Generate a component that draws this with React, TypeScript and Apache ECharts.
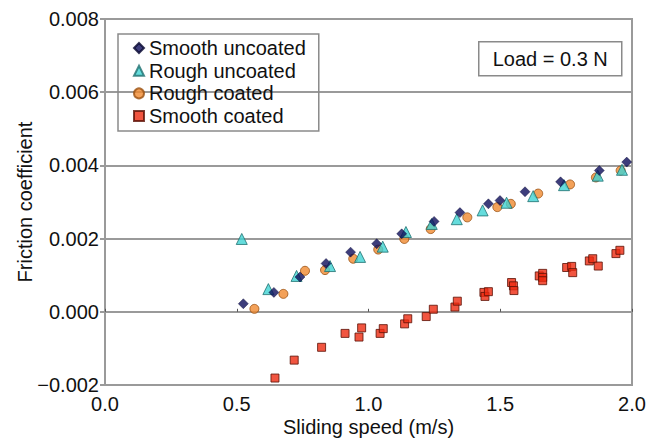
import React, { useEffect, useRef } from "react";
import * as echarts from "echarts";

const seriesNames = ["Smooth uncoated", "Rough uncoated", "Rough coated", "Smooth coated"];

const smoothUncoated: [number, number][] = [
  [0.525, 0.00022], [0.641, 0.00053], [0.74, 0.00095], [0.839, 0.00132], [0.932, 0.00163],
  [1.031, 0.00186], [1.126, 0.00213], [1.249, 0.00247], [1.347, 0.00271], [1.455, 0.00295],
  [1.499, 0.00304], [1.594, 0.00328], [1.729, 0.00355], [1.876, 0.00386], [1.98, 0.00409],
];

const roughUncoated: [number, number][] = [
  [0.519, 0.00199], [0.62, 0.00062], [0.727, 0.00098], [0.854, 0.00125], [0.968, 0.0015],
  [1.054, 0.00178], [1.142, 0.00218], [1.24, 0.0024], [1.335, 0.00253], [1.433, 0.00277],
  [1.524, 0.00298], [1.625, 0.00316], [1.742, 0.00346], [1.87, 0.00372], [1.962, 0.00388],
];

const roughCoated: [number, number][] = [
  [0.567, 0.00008], [0.677, 0.00049], [0.759, 0.00112], [0.835, 0.00114], [0.942, 0.00145],
  [1.037, 0.0017], [1.136, 0.00199], [1.236, 0.00226], [1.375, 0.00258], [1.489, 0.00286],
  [1.54, 0.00295], [1.644, 0.00323], [1.765, 0.00348], [1.863, 0.00367], [1.957, 0.00386],
];

const smoothCoated: [number, number][] = [
  [0.645, -0.00181], [0.718, -0.00132], [0.822, -0.00097], [0.911, -0.00059], [0.964, -0.00069],
  [0.974, -0.00044], [1.044, -0.00059], [1.056, -0.00046], [1.137, -0.00033], [1.149, -0.00019],
  [1.219, -0.00013], [1.246, 0.00007], [1.328, 0.00013], [1.337, 0.00029], [1.438, 0.00053],
  [1.442, 0.00042], [1.455, 0.00055], [1.543, 0.0008], [1.55, 0.00071], [1.552, 0.00058],
  [1.648, 0.00098], [1.661, 0.00105], [1.661, 0.00094], [1.661, 0.00085], [1.752, 0.00121],
  [1.771, 0.00124], [1.775, 0.00107], [1.838, 0.00139], [1.851, 0.00145], [1.872, 0.00125],
  [1.939, 0.00159], [1.954, 0.00168],
];

const xTicks = { min: 0, max: 2, interval: 0.5 };
const yTicks = { min: -0.002, max: 0.008, interval: 0.002 };
const annotation = "Load = 0.3 N";

const FONT = "'Liberation Sans', Arimo, Arial, sans-serif";
const GRAY = "#9a9a9a";
const FS = 20;

export default function App() {
  const ref = useRef<HTMLDivElement>(null);
  useEffect(() => {
    if (!ref.current) return;
    const chart = echarts.init(ref.current, null, { renderer: "svg" });
    chart.setOption({
      animation: false,
      backgroundColor: "#ffffff",
      textStyle: { fontFamily: FONT },
      grid: {
        left: 105, right: 23, top: 19, bottom: 55,
        show: true, borderColor: GRAY, borderWidth: 2, backgroundColor: "transparent",
      },
      legend: {
        orient: "vertical",
        left: 118, top: 34,
        data: seriesNames,
        itemWidth: 10, itemHeight: 10, itemGap: 2.7,
        padding: [4, 13, 5, 15],
        borderColor: "#8a8a8a", borderWidth: 1.5,
        textStyle: { fontSize: FS, color: "#111", fontFamily: FONT, lineHeight: 19 },
        selectedMode: false,
      },
      xAxis: {
        type: "value",
        min: xTicks.min, max: xTicks.max, interval: xTicks.interval,
        name: "Sliding speed (m/s)",
        nameLocation: "middle",
        nameGap: 32,
        nameMoveOverlap: false,
        nameTextStyle: { fontSize: FS, color: "#111", fontFamily: FONT },
        axisLine: { show: true, lineStyle: { color: GRAY, width: 2 } },
        axisTick: { show: true, inside: true, length: 3, lineStyle: { color: "#555" } },
        axisLabel: { fontSize: FS, color: "#111", margin: 9, fontFamily: FONT, formatter: (v: number) => v.toFixed(1) },
        splitLine: { show: false },
      },
      yAxis: {
        type: "value",
        min: yTicks.min, max: yTicks.max, interval: yTicks.interval,
        name: "Friction coefficient",
        nameLocation: "middle",
        nameGap: 70,
        nameMoveOverlap: false,
        nameTextStyle: { fontSize: FS, color: "#111", fontFamily: FONT },
        axisLine: { show: true, lineStyle: { color: GRAY, width: 2 } },
        axisTick: { show: true, inside: false, length: 5, lineStyle: { color: GRAY, width: 2 } },
        axisLabel: {
          fontSize: FS, color: "#111", margin: 6, fontFamily: FONT,
          formatter: (v: number) => (v < 0 ? "\u2212" + Math.abs(v).toFixed(3) : v.toFixed(3)),
        },
        splitLine: { show: true, lineStyle: { color: GRAY, width: 2 } },
      },
      series: [
        {
          name: seriesNames[0], type: "scatter", data: smoothUncoated, symbol: "diamond", symbolSize: 10, z: 4,
          itemStyle: { color: "#0c0c5a", borderColor: "#05052e", borderWidth: 0.5 },
        },
        {
          name: seriesNames[1], type: "scatter", data: roughUncoated, symbol: "triangle", symbolSize: 11, z: 3,
          itemStyle: { color: "#3fd3d3", borderColor: "#1f6f6f", borderWidth: 1 },
        },
        {
          name: seriesNames[2], type: "scatter", data: roughCoated, symbol: "circle", symbolSize: 9, z: 2,
          itemStyle: { color: "#f08a30", borderColor: "#9a5010", borderWidth: 1 },
        },
        {
          name: seriesNames[3], type: "scatter", data: smoothCoated, symbol: "rect", symbolSize: 8, z: 2,
          itemStyle: { color: "#ee2a10", borderColor: "#5a1005", borderWidth: 1 },
        },
      ],
      graphic: [
        {
          type: "group", left: 478, top: 41,
          children: [
            { type: "rect", shape: { x: 0, y: 0, width: 143, height: 34 }, style: { fill: "#fff", stroke: "#8a8a8a", lineWidth: 1.5 } },
            {
              type: "text", x: 71.5, y: 17,
              style: { text: annotation, fontSize: FS, fill: "#111", fontFamily: FONT, align: "center", verticalAlign: "middle" },
            },
          ],
        },
      ],
    });
    return () => chart.dispose();
  }, []);
  return <div ref={ref} style={{ position: "fixed", left: 0, top: 0, width: 655, height: 442 }} />;
}
